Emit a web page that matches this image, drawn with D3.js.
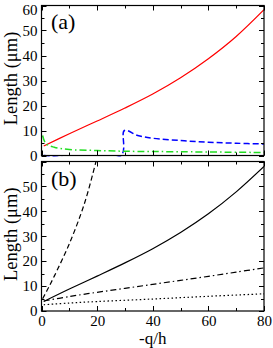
<!DOCTYPE html>
<html><head><meta charset="utf-8">
<script src="https://cdn.jsdelivr.net/npm/d3@7"></script>
<style>body{margin:0;background:#fff}svg{display:block}text{font-family:"Liberation Serif","Times New Roman",serif;fill:#000}</style>
</head><body><svg id="c" width="273" height="348"></svg>
<script>
// Panel (a)
const redX   = [0.8, 10, 20, 30, 40, 50, 60, 70, 80];
const redY   = [3.8, 8.7, 13.8, 19.0, 24.6, 31.1, 38.7, 47.6, 58.3];
const blueX  = [0.8, 28.6, 29.8, 34.6, 40, 50, 60, 70, 80];
const blueY  = [0, 0, 10, 8, 6.9, 6, 5.3, 4.9, 4.6];
const greenX = [0.4, 1.6, 4.6, 10, 20, 30, 50, 80];
const greenY = [8, 4.7, 3.3, 2.4, 2.0, 1.7, 1.5, 1.2];
// Panel (b)
const solidX   = [0.8, 10, 20, 30, 40, 50, 60, 70, 80];
const solidY   = [3.8, 8.8, 14.0, 19.3, 25.0, 31.5, 39.0, 47.8, 58.0];
const dashedX  = [0.4, 2.2, 4.6, 10, 15.4, 19.6, 21];
const dashedY  = [4.9, 8.7, 14, 27, 43, 60, 66];
const dashdotX = [0.8, 10, 20, 30, 40, 50, 60, 70, 80];
const dashdotY = [4.0, 5.8, 7.5, 9.1, 10.7, 12.3, 13.9, 15.6, 17.3];
const dottedX  = [0.8, 10, 20, 40, 60, 80];
const dottedY  = [2.5, 3.2, 3.8, 4.8, 5.9, 6.9];
// ticks
const xTicks = [0, 20, 40, 60, 80];
const yTicksA = [0, 10, 20, 30, 40, 50, 60];
const yTicksB = [0, 10, 20, 30, 40, 50];

const FONT = '"Liberation Serif","Times New Roman",serif';
const svg = d3.select("#c");
const x = d3.scaleLinear().domain([0, 80]).range([41.5, 264]);
const yA = d3.scaleLinear().domain([0, 60]).range([155.5, 5.5]);
const yB = d3.scaleLinear().domain([0, 60]).range([311, 161.5]);

function panel(y, id, yTicks, showX, label, labelY, series) {
  const g = svg.append("g");
  const [x0, x1] = x.range(); const [y0, y1] = y.range();
  g.append("clipPath").attr("id", id).append("rect")
    .attr("x", x0).attr("y", y1).attr("width", x1 - x0).attr("height", y0 - y1 + 1);
  const line = d3.line().x(d => x(d[0])).y(d => y(d[1])).curve(d3.curveCatmullRom.alpha(0.5));
  series.forEach(s => {
    g.append("path").attr("clip-path", `url(#${id})`)
      .attr("d", line(s.xs.map((v, i) => [v, s.ys[i]])))
      .attr("fill", "none").attr("stroke", s.color).attr("stroke-width", s.w)
      .attr("stroke-dasharray", s.dash);
  });
  const tk = g.append("g").attr("stroke", "#000").attr("stroke-width", 1);
  d3.range(0, 81, 10).forEach(v => {
    const L = v % 20 === 0 ? 5 : 3; const px = Math.round(x(v)) + 0.5;
    tk.append("line").attr("x1", px).attr("x2", px).attr("y1", y0).attr("y2", y0 - L);
    tk.append("line").attr("x1", px).attr("x2", px).attr("y1", y1).attr("y2", y1 + L);
  });
  d3.range(0, 61, 5).forEach(v => {
    const L = v % 10 === 0 ? 5 : 3; const py = Math.round(y(v)) + 0.5;
    tk.append("line").attr("y1", py).attr("y2", py).attr("x1", x0).attr("x2", x0 + L);
    tk.append("line").attr("y1", py).attr("y2", py).attr("x1", x1).attr("x2", x1 - L);
  });
  g.append("rect").attr("x", x0).attr("y", y1).attr("width", x1 - x0).attr("height", y0 - y1)
    .attr("fill", "none").attr("stroke", "#000").attr("stroke-width", 1.2);
  const ya = g.append("g").attr("transform", `translate(${x0},0)`)
    .call(d3.axisLeft(y).tickValues(yTicks).tickSize(0).tickPadding(4));
  ya.attr("font-family", FONT);
  ya.select(".domain").remove();
  ya.selectAll("text").style("font-family", FONT).style("font-size", "15px").attr("fill", "#000")
    .attr("dy", d => d === 60 ? "0.6em" : "0.32em");
  if (showX) {
    const xa = g.append("g").attr("transform", `translate(0,${y0})`)
      .call(d3.axisBottom(x).tickValues(xTicks).tickSize(0).tickPadding(4));
    xa.attr("font-family", FONT);
    xa.select(".domain").remove();
    xa.selectAll("text").style("font-family", FONT).style("font-size", "15px").attr("fill", "#000");
  }
  g.append("text").attr("x", 51).attr("y", labelY).style("font-size", "22px").text(label);
  g.append("text").attr("transform", `translate(16.5,${(y0 + y1) / 2 - 2}) rotate(-90)`)
    .attr("text-anchor", "middle").style("font-size", "18.5px").text("Length (μm)");
}

panel(yA, "clipA", yTicksA, false, "(a)", 28.5, [
  {xs: redX, ys: redY, color: "#ff0000", w: 1.2, dash: null},
  {xs: blueX, ys: blueY, color: "#0000ff", w: 1.5, dash: "6,3"},
  {xs: greenX, ys: greenY, color: "#22dd22", w: 1.5, dash: "7,3,1.5,3"},
]);
panel(yB, "clipB", yTicksB, true, "(b)", 186, [
  {xs: solidX, ys: solidY, color: "#000", w: 1.2, dash: null},
  {xs: dashedX, ys: dashedY, color: "#000", w: 1.2, dash: "5,3"},
  {xs: dashdotX, ys: dashdotY, color: "#000", w: 1.2, dash: "6,3,1.5,3"},
  {xs: dottedX, ys: dottedY, color: "#000", w: 1.2, dash: "1.5,2.5"},
]);
svg.append("text").attr("x", x(40)).attr("y", 344).attr("text-anchor", "middle")
  .style("font-size", "17px").text("-q/h");
</script></body></html>
